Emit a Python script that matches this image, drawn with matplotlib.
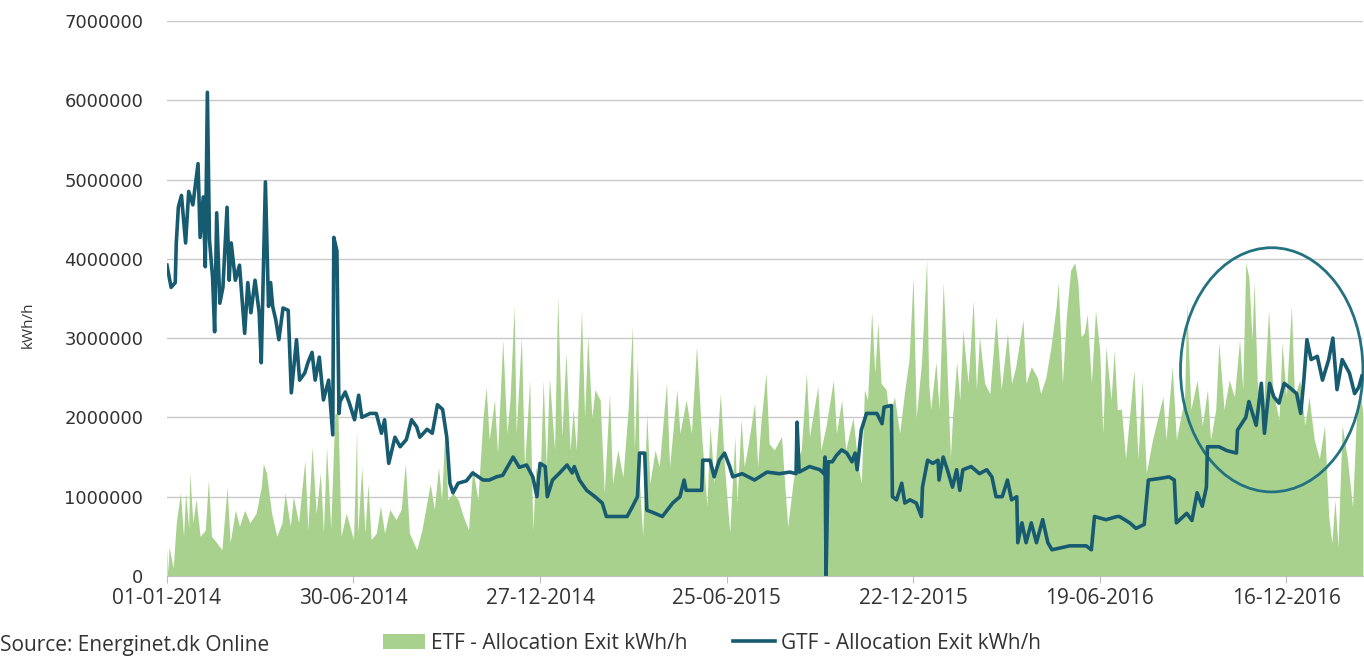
import matplotlib.pyplot as plt
import matplotlib.dates as mdates
from matplotlib.patches import Ellipse
import numpy as np

start = np.datetime64('2014-01-01')
last_day = 1154
tick_days = [0, 180, 360, 540, 720, 900, 1080]

# ETF - Allocation Exit: day offset from 01-01-2014, value in mio. kWh/h
etf_day = [0, 1, 2, 6, 9, 13, 16, 18, 21, 22, 25, 28, 32, 37, 40, 43, 48, 53, 58, 61,
           66, 70, 75, 80, 86, 91, 93, 96, 101, 106, 111, 114, 119, 122, 127, 133, 136, 140, 144, 148,
           151, 154, 158, 162, 165, 168, 173, 180, 183,
           184, 188, 191, 194, 197, 202, 206, 210, 215, 221, 226, 230, 234, 241, 246, 254, 258, 262, 265, 268,
           271, 276, 281, 286, 291, 295, 300, 305, 308, 311, 316, 319, 324, 328, 331, 335, 337, 342, 345, 350,
           353, 356,
           360, 363, 366, 369, 374, 377, 381, 385, 389, 392, 395, 400, 403, 406, 410, 413, 418, 422, 427, 430,
           435, 440, 445, 449, 451, 454, 456, 459, 463, 466, 471, 475, 482, 485, 492, 495, 501, 506, 511, 516,
           521, 524, 528, 534, 538, 543, 548,
           550, 554, 557, 561, 567, 570, 573, 578, 581, 586, 593, 596, 599, 604, 607, 612, 617, 620, 628, 631,
           636, 643, 646, 651, 655, 662, 667, 670, 673, 676, 680, 683, 686, 689, 694, 697, 702, 707, 712, 716,
           720, 723, 728, 733, 735,
           737, 742, 745, 749, 752, 756, 758, 762, 765, 768, 773, 778, 781, 784, 789, 794, 800, 805, 811, 815,
           819, 826, 829, 834, 840, 843, 848, 853, 858, 860, 864, 868, 872, 876, 879, 882, 885, 888, 892, 896,
           900, 903, 906, 911, 914, 917,
           921, 925, 933, 937, 941, 945, 951, 961, 964, 970, 974, 982, 984, 988, 994, 999, 1004, 1007, 1012, 1015,
           1020, 1025, 1030, 1035, 1038, 1041, 1044, 1047, 1049, 1052, 1057, 1063, 1067, 1073, 1076, 1080, 1085, 1088, 1093, 1098,
           1102, 1107, 1112, 1117, 1121, 1124, 1127, 1130, 1134, 1139, 1144, 1148, 1151, 1154]
etf_val = [0.35, 0.05, 0.37, 0.1, 0.67, 1.05, 0.5, 1.05, 0.6, 1.3, 0.67, 0.97, 0.5, 0.58, 1.21, 0.5, 0.42, 0.33, 1.12, 0.42,
           0.83, 0.63, 0.83, 0.67, 0.79, 1.12, 1.42, 1.3, 0.79, 0.5, 0.67, 1.05, 0.63, 1.0, 0.67, 1.46, 0.58, 1.63, 0.79, 1.3,
           0.55, 1.63, 0.6, 2.05, 2.05, 0.5, 0.79, 0.46, 1.84,
           0.54, 1.37, 0.54, 1.16, 0.46, 0.54, 0.88, 0.54, 0.84, 0.71, 0.84, 1.42, 0.54, 0.33, 0.58, 1.16, 0.84, 1.37, 0.96, 1.8,
           0.96, 1.05, 0.96, 0.75, 0.58, 1.37, 0.96, 2.0, 2.38, 1.72, 2.22, 1.55, 2.98, 1.8, 2.22, 3.4, 1.8, 3.02, 1.37, 2.47,
           0.58, 1.37,
           1.17, 2.47, 1.38, 2.5, 1.59, 3.52, 1.76, 2.81, 1.59, 2.1, 1.59, 3.35, 2.0, 3.02, 2.0, 2.35, 2.22, 1.05, 2.3, 1.17,
           1.59, 1.25, 2.1, 3.14, 1.59, 2.73, 1.17, 0.5, 2.05, 1.17, 1.59, 1.38, 2.43, 1.38, 2.35, 1.8, 2.22, 1.8, 2.9, 1.76,
           0.88, 1.89, 1.17, 2.3, 1.38, 0.55, 1.76,
           0.92, 1.97, 1.38, 1.67, 2.18, 1.38, 1.92, 2.56, 1.67, 1.59, 1.76, 1.17, 0.62, 1.17, 1.42, 1.59, 2.56, 1.76, 2.39, 1.59,
           1.89, 2.47, 1.8, 2.22, 1.59, 2.0, 1.38, 1.17, 2.35, 2.22, 3.33, 2.56, 3.2, 2.43, 2.35, 2.0, 2.26, 1.8, 2.35, 2.72,
           3.77, 2.0, 2.68, 3.98, 2.43,
           2.1, 2.7, 2.1, 3.7, 2.85, 1.5, 2.0, 2.7, 2.22, 3.1, 2.43, 3.48, 2.35, 3.02, 2.43, 2.3, 3.27, 2.35, 3.06, 2.43,
           2.64, 3.23, 2.43, 2.64, 2.5, 2.3, 2.5, 2.89, 3.4, 3.7, 2.43, 3.3, 3.86, 3.95, 3.7, 3.02, 3.06, 3.3, 2.43, 3.35,
           2.85, 1.8, 2.89, 2.22, 2.85, 2.1,
           2.1, 1.48, 2.6, 1.48, 2.47, 1.3, 1.72, 2.26, 1.72, 2.64, 1.72, 2.26, 3.44, 2.1, 2.47, 1.9, 2.35, 1.72, 2.1, 2.94,
           2.1, 2.47, 2.26, 2.98, 2.35, 3.95, 3.76, 2.98, 3.72, 2.47, 1.9, 3.35, 2.35, 1.97, 2.94, 2.26, 3.4, 2.26, 2.47, 1.9,
           2.26, 1.72, 1.48, 1.9, 0.75, 0.42, 0.96, 0.37, 1.9, 1.48, 0.87, 2.1, 2.35, 2.05]

# GTF - Allocation Exit: day offset from 01-01-2014, value in mio. kWh/h
gtf_day = [0, 4, 8, 9, 11, 14, 18, 21, 25, 30, 32, 35, 37, 39, 41, 44, 46, 48, 51, 54,
           58, 60, 62, 66, 70, 73, 75, 78, 81, 85, 89, 91, 95, 98, 100, 102, 105, 108, 112, 117,
           120, 125, 128, 133, 136, 140, 143, 147, 151, 156, 160, 161, 164, 166, 167, 172, 176, 181, 185,
           188, 196, 202, 207, 210, 214, 220, 225, 231, 236, 241, 244, 251, 256, 261, 266, 270, 273, 276, 281,
           289, 295, 305, 311, 318, 324, 334, 340, 347, 353, 357, 360, 365, 367,
           372, 379, 386, 391, 393, 398, 405, 413, 420, 424, 434, 444, 449, 454, 456, 461, 463, 469, 478, 488,
           495, 499, 501, 511, 516, 517, 524, 528, 533, 538, 543,
           546, 555, 567, 579, 591, 601, 607, 608, 610, 620, 630, 634, 635, 636, 638, 642, 646, 651, 656, 661,
           664, 666, 670, 675, 685, 690, 692, 699, 700, 704, 709, 712, 717, 723, 728, 729, 734,
           739, 744, 745, 749, 753, 758, 762, 765, 768, 776, 784, 791, 796, 800, 806, 811, 815, 820, 821, 825,
           829, 834, 839, 845, 850, 854, 871, 887, 892, 895, 906, 917,
           919, 929, 935, 943, 947, 958, 967, 972, 974, 984, 989, 994, 999, 1003, 1004, 1015, 1023, 1032, 1033, 1041,
           1044, 1051, 1056, 1059, 1064, 1068, 1073, 1078, 1083, 1090, 1094, 1097, 1100, 1104, 1110, 1115, 1121, 1125, 1129, 1134,
           1141, 1146, 1150, 1153]
gtf_val = [3.92, 3.64, 3.7, 4.2, 4.65, 4.8, 4.2, 4.85, 4.68, 5.2, 4.27, 4.78, 3.9, 6.1, 4.24, 3.77, 3.08, 4.58, 3.44, 3.64,
           4.65, 3.73, 4.2, 3.73, 3.92, 3.4, 3.06, 3.7, 3.32, 3.73, 3.32, 2.69, 4.97, 3.4, 3.7, 3.4, 3.23, 2.98, 3.38, 3.35,
           2.31, 2.98, 2.47, 2.56, 2.69, 2.82, 2.47, 2.76, 2.22, 2.47, 1.78, 4.27, 4.1, 2.05, 2.2, 2.32, 2.18, 1.97, 2.28,
           2.0, 2.05, 2.05, 1.8, 1.97, 1.42, 1.75, 1.63, 1.72, 1.97, 1.88, 1.75, 1.85, 1.8, 2.16, 2.1, 1.75, 1.17, 1.05, 1.17,
           1.2, 1.3, 1.21, 1.21, 1.25, 1.27, 1.5, 1.37, 1.4, 1.25, 1.0, 1.42, 1.38, 1.0,
           1.21, 1.3, 1.4, 1.3, 1.38, 1.21, 1.08, 1.0, 0.92, 0.75, 0.75, 0.75, 0.87, 1.0, 1.55, 1.55, 0.83, 0.8, 0.75, 0.92,
           1.0, 1.21, 1.08, 1.08, 1.08, 1.46, 1.46, 1.25, 1.46, 1.55, 1.38,
           1.25, 1.29, 1.21, 1.31, 1.29, 1.31, 1.29, 1.94, 1.31, 1.38, 1.34, 1.29, 1.5, 0.0, 1.44, 1.44, 1.52, 1.59, 1.55, 1.44,
           1.55, 1.34, 1.84, 2.05, 2.05, 1.92, 2.13, 2.15, 1.0, 0.96, 1.17, 0.92, 0.96, 0.92, 0.75, 1.12, 1.46,
           1.42, 1.46, 1.21, 1.5, 1.34, 1.12, 1.34, 1.08, 1.34, 1.38, 1.29, 1.34, 1.25, 1.0, 1.0, 1.21, 0.96, 1.0, 0.42, 0.67,
           0.42, 0.67, 0.42, 0.71, 0.42, 0.33, 0.38, 0.38, 0.33, 0.75, 0.71, 0.75,
           0.75, 0.67, 0.6, 0.65, 1.21, 1.23, 1.25, 1.21, 0.67, 0.79, 0.7, 1.05, 0.88, 1.12, 1.63, 1.63, 1.58, 1.55, 1.84, 2.0,
           2.2, 1.9, 2.43, 1.8, 2.43, 2.26, 2.18, 2.43, 2.38, 2.3, 2.05, 2.47, 2.98, 2.73, 2.77, 2.47, 2.73, 3.0, 2.35, 2.73,
           2.56, 2.3, 2.38, 2.52]

# highlighted winter 2016/17 (centre day, centre value, width in days, height in mio.)
ring = (1066, 2.6, 176, 3.08)

def to_dates(days):
    return start + np.array(days).astype('timedelta64[D]')

plt.rcParams['font.family'] = ['Open Sans', 'DejaVu Sans']

fig = plt.figure(figsize=(13.64, 6.59), dpi=100)
ax = fig.add_axes([0.1224, 0.126, 0.8768, 0.8422])

ax.fill_between(to_dates(etf_day), np.array(etf_val) * 1e6, color='#a9d18e', lw=0,
                label='ETF - Allocation Exit kWh/h')
ax.plot(to_dates(gtf_day), np.array(gtf_val) * 1e6, color='#175b70', lw=2.6,
        label='GTF - Allocation Exit kWh/h')

cx = mdates.date2num(start + np.timedelta64(ring[0], 'D'))
ax.add_patch(Ellipse((cx, ring[1] * 1e6), ring[2], ring[3] * 1e6, fill=False,
                     ec='#23727f', lw=2, clip_on=False))

ax.set_ylim(0, 7e6)
ax.set_yticks(np.arange(0, 7.5e6, 1e6))
ax.yaxis.set_major_formatter(lambda v, p: f'{v:.0f}')
ax.set_xlim(start, start + np.timedelta64(last_day, 'D'))
ax.set_xticks(to_dates(tick_days))
ax.xaxis.set_major_formatter(mdates.DateFormatter('%d-%m-%Y'))

ax.grid(axis='y', color='#c8c8c8', lw=1)
ax.set_axisbelow(True)
for s in ['top', 'right', 'left']:
    ax.spines[s].set_visible(False)
ax.spines['bottom'].set_color('#bfbfbf')

ax.tick_params(axis='y', length=0, pad=17, labelsize=13, labelcolor='#333333')
ax.tick_params(axis='x', length=5, color='#bfbfbf', pad=4, labelsize=15, labelcolor='#333333')
for lab in ax.get_yticklabels():
    lab.set_fontfamily('DejaVu Sans')

fig.text(0.0205, 0.507, 'kWh/h', rotation=90, ha='center', va='center', fontsize=11, color='#333333')
fig.text(0.0, 0.004, 'Source: Energinet.dk Online', ha='left', va='bottom', fontsize=15, color='#333333')

fig.legend(loc='center', bbox_to_anchor=(0.522, 0.024), ncol=2, frameon=False, fontsize=15,
           handlelength=2.0, handletextpad=0.3, columnspacing=2.2, labelcolor='#333333')

fig.savefig('out.png', dpi=100)
